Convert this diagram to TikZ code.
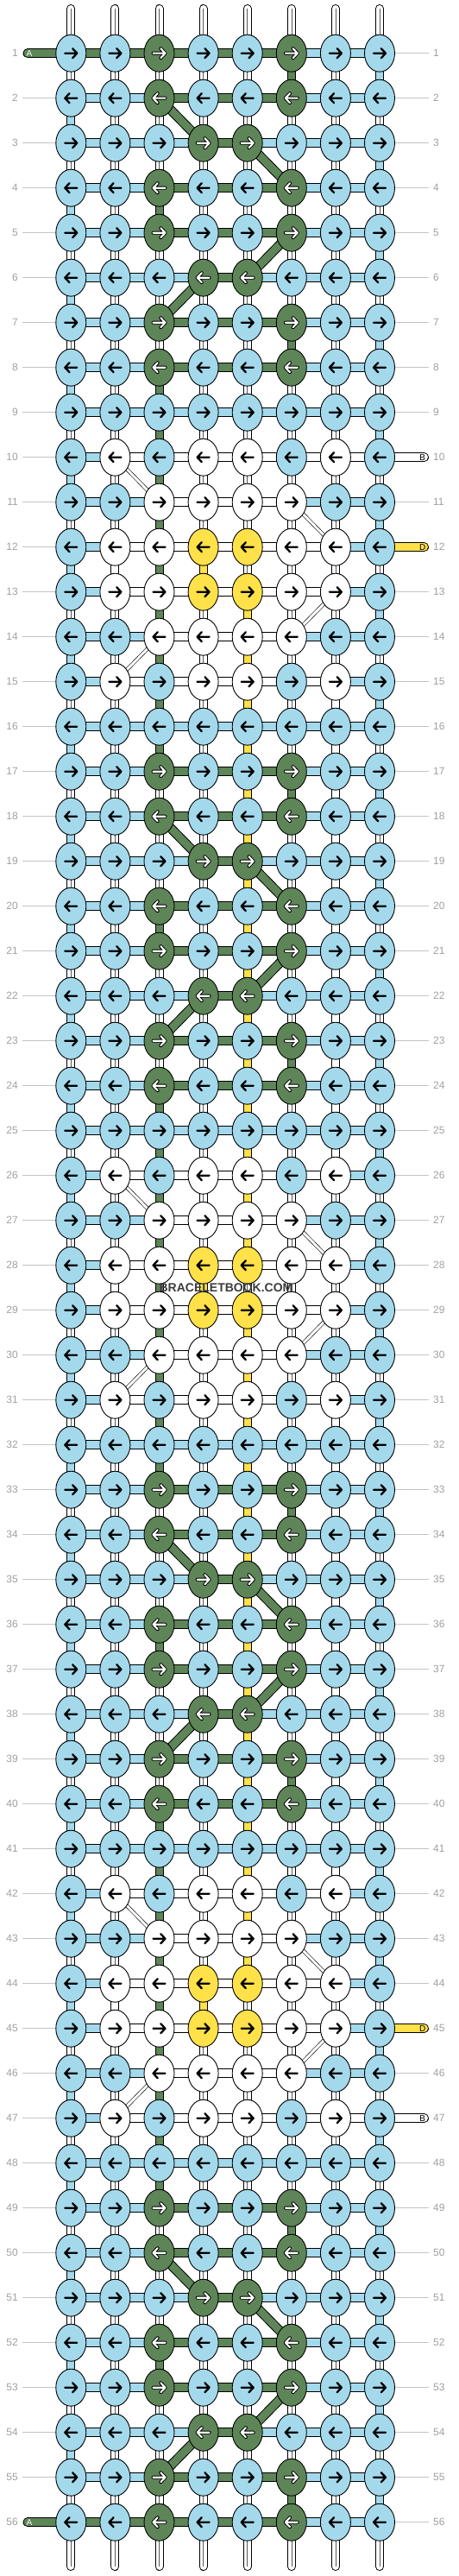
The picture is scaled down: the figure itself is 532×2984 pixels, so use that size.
\documentclass[tikz,border=0pt]{standalone}
\usepackage{fontspec}
\setmainfont{Liberation Sans}
\usetikzlibrary{shapes.geometric}
\definecolor{c0}{HTML}{A4D9EC}
\definecolor{c1}{HTML}{5E8558}
\definecolor{c2}{HTML}{FFFFFF}
\definecolor{c3}{HTML}{FFE14A}
\definecolor{lblc}{HTML}{A0A0A0}
\definecolor{rulec}{HTML}{C4C4C4}
\definecolor{wmark}{HTML}{3C3C3C}
\pgfdeclarelayer{bg}
\pgfdeclarelayer{conn}
\pgfsetlayers{bg,conn,main}
\def\rowtype{{0,0,1,0,0,1,0,0,2,3,4,5,5,4,3,2}}
\def\knotcols{{0,0,1,0,0,1,0,0, 0,0,0,1,1,0,0,0, 0,0,0,0,0,0,0,0, 0,2,0,2,2,0,2,0, 0,0,2,2,2,2,0,0, 0,2,2,3,3,2,2,0}}
\def\hcols{{0,0,1,1,1,0,0, 0,0,0,1,0,0,0, 0,0,0,0,0,0,0, 0,2,2,2,2,2,0, 0,0,2,2,2,0,0, 0,2,2,2,2,2,0, 1,1,1,1,1,0,0, 0,2,2,2,2,2,2}}
\tikzset{
  knot/.style={ellipse, draw=black, line width=0.9pt, fill=#1, minimum width=35pt, minimum height=43pt, inner sep=0pt},
  hband/.style={draw=black, line width=1pt, double=#1, double distance=9pt},
  vband/.style={draw=black, line width=1pt, double=#1, double distance=8pt},
  splitline/.style={draw=black!65, line width=0.5pt},
  thinband/.style={draw=black, line width=0.6pt, double=white, double distance=3pt},
  tubeout/.style={draw=black, line width=10pt, line cap=round},
  tubein/.style={draw=white, line width=8pt, line cap=round},
  endout/.style={draw=black, line width=11pt, line cap=round},
  endin/.style={draw=#1, line width=9pt, line cap=round},
  rowlbl/.style={text=lblc, font=\fontsize{12}{14}\selectfont, inner sep=0pt},
  rowrule/.style={draw=rulec, line width=1pt},
  endlbl/.style={text=#1, font=\fontsize{10}{12}\selectfont, inner sep=0pt},
  arrowblack/.style={draw=black, line width=2.3pt, line cap=round, line join=round},
  arrowedge/.style={draw=black, line width=4pt, line cap=round, line join=round},
  arrowwhite/.style={draw=white, line width=2.1pt, line cap=round, line join=round},
  wmarkstyle/.style={text=wmark, font=\bfseries\fontsize{14}{16}\selectfont, inner sep=0pt}
}
\begin{document}
\begin{tikzpicture}[x=1pt,y=-1pt]
\begin{pgfonlayer}{bg}
\fill[white] (0,0) rectangle (532,2984);
\end{pgfonlayer}
\useasboundingbox (0,0) rectangle (532,2984);
% knots and row labels
\foreach \r in {1,...,56}{
  \pgfmathtruncatemacro\m{mod(\r-1,16)}
  \pgfmathtruncatemacro\t{\rowtype[\m]}
  \pgfmathsetmacro\y{61.7+(\r-1)*52}
  \pgfmathtruncatemacro\s{mod(\r,2)==1 ? 1 : -1}
  \node[rowlbl, anchor=east] (ll-\r) at (21,\y) {\r};
  \node[rowlbl, anchor=west] (lr-\r) at (502,\y) {\r};
  \foreach \c in {1,...,8}{
    \pgfmathsetmacro\x{82.3+(\c-1)*51.1}
    \pgfmathtruncatemacro\idx{\t*8+\c-1}
    \pgfmathtruncatemacro\k{\knotcols[\idx]}
    \pgfmathsetmacro\xa{\x-7*\s}
    \pgfmathsetmacro\xb{\x+7*\s}
    \pgfmathsetmacro\xc{\x+1.8*\s}
    \pgfmathsetmacro\ya{\y-5.5}
    \pgfmathsetmacro\yb{\y+5.5}
    \node[knot=c\k] (k-\r-\c) at (\x,\y) {};
    \ifnum\k=1\relax
      \draw[arrowedge] (\xa,\y) -- (\xb,\y) (\xc,\ya) -- (\xb,\y) -- (\xc,\yb);
      \draw[arrowwhite] (\xa,\y) -- (\xb,\y) (\xc,\ya) -- (\xb,\y) -- (\xc,\yb);
    \else
      \draw[arrowblack] (\xa,\y) -- (\xb,\y) (\xc,\ya) -- (\xb,\y) -- (\xc,\yb);
    \fi
  }
}
% end labels
\node[endlbl=white] (la-1) at (34,61.7) {A};
\node[endlbl=white] (la-56) at (34,2921.7) {A};
\node[endlbl=black] (lb-10) at (489.7,529.7) {B};
\node[endlbl=black] (lb-47) at (489.7,2453.7) {B};
\node[endlbl=black] (ld-12) at (489.7,633.7) {D};
\node[endlbl=black] (ld-45) at (489.7,2349.7) {D};
\node[wmarkstyle] (wm) at (262,1492) {BRACELETBOOK.COM};

\begin{pgfonlayer}{conn}
% row rules
\foreach \r in {2,...,55}{
  \draw[rowrule] ([xshift=5pt]ll-\r.east) -- (k-\r-1.west);
}
\foreach \r in {1,...,9,11,13,14,...,44,46,48,49,...,56}{
  \draw[rowrule] (k-\r-8.east) -- ([xshift=-5pt]lr-\r.west);
}
% top and bottom tubes
\foreach \c in {1,...,8}{
  \pgfmathsetmacro\x{82.3+(\c-1)*51.1}
  \coordinate (t-\c) at (\x,10);
  \coordinate (b-\c) at (\x,2973);
  \draw[tubeout] (t-\c) -- (k-1-\c.center);
  \draw[tubein] (t-\c) -- (k-1-\c.center);
  \draw[splitline] (t-\c) -- (k-1-\c.center);
  \draw[tubeout] (k-56-\c.center) -- (b-\c);
  \draw[tubein] (k-56-\c.center) -- (b-\c);
  \draw[splitline] (k-56-\c.center) -- (b-\c);
}
% vertical connectors
\foreach \r in {1,...,55}{
  \pgfmathtruncatemacro\rn{\r+1}
  \pgfmathtruncatemacro\m{mod(\r-1,16)+1}
  \pgfmathtruncatemacro\ev{mod(\r,2)}
  \foreach \c in {1,...,8}{
    \pgfmathtruncatemacro\vt{(\c==1 && \ev==0) ? 1 : ((\c==8 && \ev==1) ? 1 : ((\c==6 && (\m==1 || \m==7)) ? 2 : ((\c==3 && (\m==4 || \m>7)) ? 2 : ((\c==4 && (\r==12 || \r==28 || \r==44)) ? 3 : ((\c==5 && \r>12 && \r<44 && (\r<28 || \r>28)) ? 3 : ((\c==7 && ((\r>14 && \r<26) || (\r>30 && \r<42))) ? 4 : ((\c==2 && (\r==12 || \r==28 || \r==44)) ? 4 : 0)))))))}
    \ifcase\vt\relax
      \draw[vband=c2] (k-\r-\c.center) -- (k-\rn-\c.center);
      \draw[splitline] (k-\r-\c.center) -- (k-\rn-\c.center);
    \or
      \draw[vband=c0] (k-\r-\c.center) -- (k-\rn-\c.center);
    \or
      \draw[vband=c1] (k-\r-\c.center) -- (k-\rn-\c.center);
    \or
      \draw[vband=c3] (k-\r-\c.center) -- (k-\rn-\c.center);
    \or
      \draw[vband=c2] (k-\r-\c.center) -- (k-\rn-\c.center);
    \fi
  }
}
% horizontal connectors
\foreach \r in {1,...,56}{
  \pgfmathtruncatemacro\m{mod(\r-1,16)}
  \pgfmathtruncatemacro\tt{\rowtype[\m]}
  \pgfmathtruncatemacro\t{(\r==1 || \r==56) ? 6 : ((\r==10 || \r==47) ? 7 : \tt)}
  \foreach \c in {1,...,7}{
    \pgfmathtruncatemacro\cn{\c+1}
    \pgfmathtruncatemacro\idx{\t*7+\c-1}
    \pgfmathtruncatemacro\h{\hcols[\idx]}
    \draw[hband=c\h] (k-\r-\c.center) -- (k-\r-\cn.center);
  }
}
% green diagonals
\foreach \r/\a/\b in {2/3/4,3/5/6,5/6/5,6/4/3,18/3/4,19/5/6,21/6/5,22/4/3,34/3/4,35/5/6,37/6/5,38/4/3,50/3/4,51/5/6,53/6/5,54/4/3}{
  \pgfmathtruncatemacro\rn{\r+1}
  \draw[hband=c1] (k-\r-\a.center) -- (k-\rn-\b.center);
}
% white diagonals
\foreach \r/\a/\b in {10/2/3,11/6/7,13/7/6,14/3/2,26/2/3,27/6/7,29/7/6,30/3/2,42/2/3,43/6/7,45/7/6,46/3/2}{
  \pgfmathtruncatemacro\rn{\r+1}
  \draw[thinband] (k-\r-\a.center) -- (k-\rn-\b.center);
}
% loose string ends
\coordinate (ea-1) at (32,61.7);
\coordinate (ea-56) at (32,2921.7);
\coordinate (eb-10) at (491.5,529.7);
\coordinate (eb-47) at (491.5,2453.7);
\coordinate (ed-12) at (491.5,633.7);
\coordinate (ed-45) at (491.5,2349.7);
\draw[endout] (ea-1) -- (k-1-1.center);
\draw[endin=c1] (ea-1) -- (k-1-1.center);
\draw[endout] (ea-56) -- (k-56-1.center);
\draw[endin=c1] (ea-56) -- (k-56-1.center);
\draw[endout] (eb-10) -- (k-10-8.center);
\draw[endin=c2] (eb-10) -- (k-10-8.center);
\draw[endout] (eb-47) -- (k-47-8.center);
\draw[endin=c2] (eb-47) -- (k-47-8.center);
\draw[endout] (ed-12) -- (k-12-8.center);
\draw[endin=c3] (ed-12) -- (k-12-8.center);
\draw[endout] (ed-45) -- (k-45-8.center);
\draw[endin=c3] (ed-45) -- (k-45-8.center);
\end{pgfonlayer}
\end{tikzpicture}
\end{document}
